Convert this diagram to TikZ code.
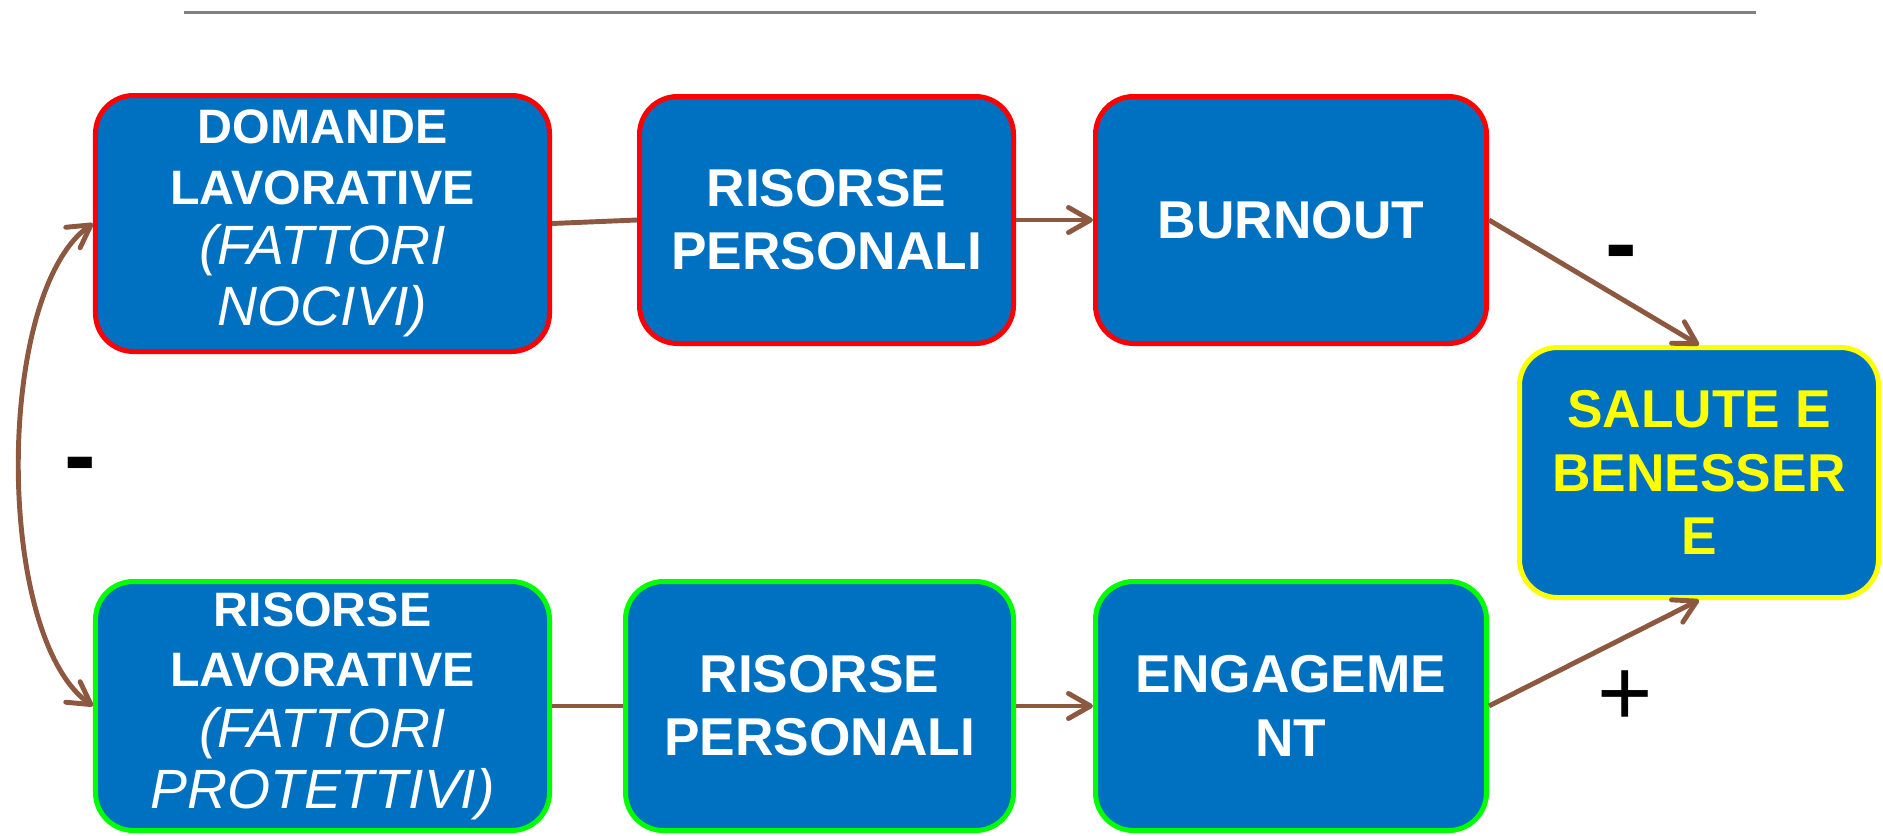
\documentclass[tikz,border=0pt]{standalone}
\usepackage{fontspec}
\setmainfont{Liberation Sans}
\usetikzlibrary{arrows.meta}

\definecolor{boxblue}{RGB}{0,112,192}
\definecolor{linkbrown}{RGB}{140,88,64}
\definecolor{edgegreen}{RGB}{0,255,0}
\definecolor{edgeyellow}{RGB}{255,255,0}
\newcommand{\itl}[1]{{\fontsize{31.5}{37.5}\selectfont\mdseries\itshape #1}}

\begin{document}
\begin{tikzpicture}[scale=0.2, >={Straight Barb[length=0.44cm,width=0.5cm,round]}]
\tikzstyle{every node}+=[inner sep=0pt]
\tikzstyle{box}=[draw, fill=boxblue, line width=0.1cm, rounded corners=0.76cm, text=white, align=center, font=\fontsize{30.3}{36}\selectfont\bfseries]
\tikzstyle{bigbox}=[box, font=\fontsize{27.5}{34.5}\selectfont\bfseries, minimum width=9.08cm]
\tikzstyle{conn}=[draw=linkbrown, line width=2.8pt]
\tikzstyle{signlabel}=[text=black, font=\fontsize{54}{60}\selectfont]
\useasboundingbox (0,0) rectangle (188.3,-83.5);
\draw [gray, line width=0.06cm] (18.4,-1.2) -- (175.6,-1.2);
% upper row
\node [bigbox, draw=red, minimum height=5.12cm] (dom) at (32.25,-22.35) {DOMANDE\\LAVORATIVE\\\itl{(FATTORI}\\\itl{NOCIVI)}};
\node [box, draw=red, minimum width=7.48cm, minimum height=4.94cm] (risp1) at (82.65,-22) {RISORSE\\PERSONALI};
\node [box, draw=red, minimum width=7.82cm, minimum height=4.94cm] (burn) at (129.1,-22) {BURNOUT};
% outcome
\node [box, draw=edgeyellow, text=edgeyellow, minimum width=7.18cm, minimum height=5cm] (sal) at (169.9,-47.25) {SALUTE E\\BENESSER\\E};
% lower row
\node [bigbox, draw=edgegreen, minimum height=4.98cm] (lavr) at (32.25,-70.6) {RISORSE\\LAVORATIVE\\\itl{(FATTORI}\\\itl{PROTETTIVI)}};
\node [box, draw=edgegreen, minimum width=7.76cm, minimum height=4.98cm] (risp2) at (81.95,-70.6) {RISORSE\\PERSONALI};
\node [box, draw=edgegreen, minimum width=7.82cm, minimum height=4.98cm] (eng) at (129.1,-70.6) {ENGAGEME\\NT};
% signs
\node [signlabel, font=\fontsize{54}{60}\selectfont\bfseries] (neg1) at (8.0,-47.2) {-};
\node [signlabel, font=\fontsize{54}{60}\selectfont\bfseries] (neg2) at (162.1,-26.0) {-};
\node [signlabel] (pos) at (162.5,-69.8) {+};
% links
\draw [conn] (dom.east) -- (risp1.west);
\draw [conn, ->] (risp1.east) -- (burn.west);
\draw [conn, ->] (burn.east) -- (sal.north);
\draw [conn] (lavr.east) -- (risp2.west);
\draw [conn, ->] (risp2.east) -- (eng.west);
\draw [conn, ->] (eng.east) -- (sal.south);
\draw [conn, <->] (dom.west) .. controls +(215:12) and +(145:12) .. (lavr.west);
\end{tikzpicture}
\end{document}
